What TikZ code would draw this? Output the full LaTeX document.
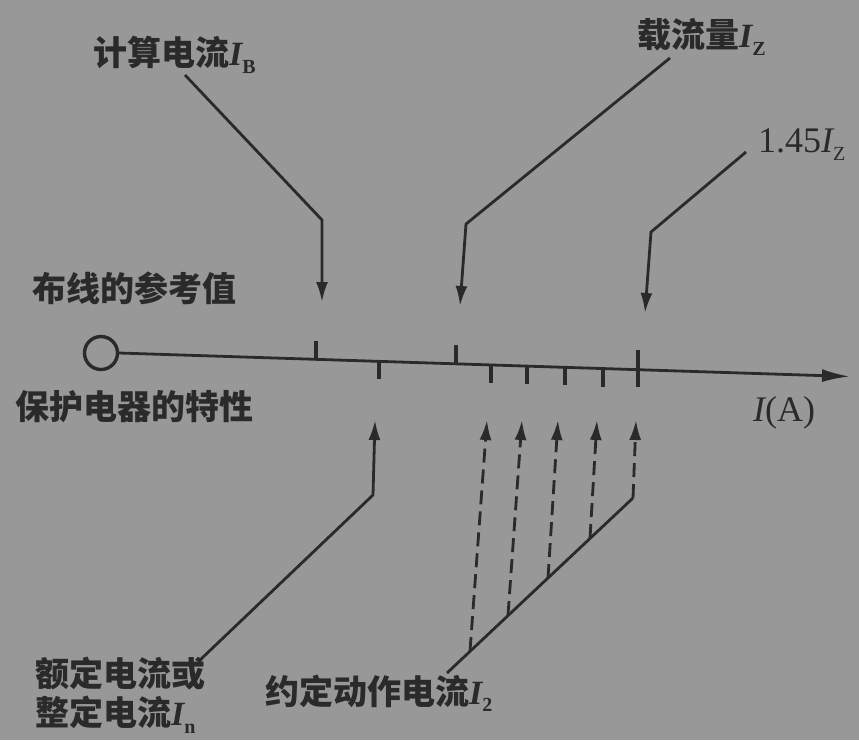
\documentclass[tikz,border=0pt]{standalone}
\usepackage{fontspec}
\setmainfont{Liberation Serif}
\newfontfamily\cjk{Noto Sans CJK SC}
\usetikzlibrary{arrows.meta}
\definecolor{bg}{RGB}{152,152,152}
\definecolor{ink}{RGB}{42,42,42}
\newcommand{\lowsub}[1]{\raisebox{-0.22em}{\rmfamily\upshape\fontsize{20}{20}\selectfont #1}}
\newcommand{\vI}{{\rmfamily\itshape I}}
\begin{document}
\begin{tikzpicture}[x=1pt,y=-1pt,
  lab/.style={inner sep=0pt, text=ink, font=\fontsize{34}{39}\selectfont\cjk\bfseries, anchor=west},
  latin/.style={inner sep=0pt, text=ink, font=\fontsize{36}{40}\selectfont\rmfamily, anchor=west},
  ln/.style={draw=ink, line width=2.8pt, line join=round},
  tick/.style={draw=ink, line width=3.6pt},
  tip/.style={-{Latex[length=20pt,width=12pt]}},
  dsh/.style={dash pattern=on 14pt off 7pt}]
\fill[bg] (0,0) rectangle (859,740);
\useasboundingbox (0,0) rectangle (859,740);

% axis
\node[circle, draw=ink, line width=3.4pt, minimum size=33pt, inner sep=0pt] (o) at (101,353) {};
\coordinate (axend) at (850,376.5);
\draw[ln, -{Latex[length=28pt,width=13pt]}] (o.east) -- (axend);

% tick positions on the axis
\coordinate (tB)  at (316,359.1);
\coordinate (tZ)  at (456,363.7);
\coordinate (t145) at (638,369.6);
\coordinate (tn)  at (379,361.2);
\coordinate (ta)  at (491,364.8);
\coordinate (tb)  at (527,366.0);
\coordinate (tc)  at (565,367.2);
\coordinate (td)  at (603,368.5);
\draw[tick] (tB) -- ++(0,-18);
\draw[tick] (tZ) -- ++(0,-19);
\draw[tick] (t145) ++(0,-20) -- ++(0,37);
\draw[tick] (tn) -- ++(0,18);
\draw[tick] (ta) -- ++(0,18);
\draw[tick] (tb) -- ++(0,18);
\draw[tick] (tc) -- ++(0,18);
\draw[tick] (td) -- ++(0,18);

% labels
\node[lab] (labB) at (93,55) {计算电流\vI\lowsub{B}};
\node[lab] (labZ) at (637,37) {载流量\vI\lowsub{Z}};
\node[latin] (lab145) at (758,145) {1.45\vI\lowsub{Z}};
\node[lab] (labRef) at (32,288) {布线的参考值};
\node[lab] (labProt) at (15,407) {保护电器的特性};
\node[latin] (labIA) at (753,413) {\vI(A)};
\node[lab, anchor=north west, align=left] (labIn) at (35,657) {额定电流或\\整定电流\vI\lowsub{n}};
\node[lab] (labI2) at (265,693) {约定动作电流\vI\lowsub{2}};

% upper arrows
\coordinate (sB) at (185,75);  \coordinate (bB) at (322,220);  \coordinate (eB) at (322,302);
\coordinate (sZ) at (670,58);  \coordinate (bZ) at (466,224);  \coordinate (eZ) at (460,306);
\coordinate (s145) at (746,152); \coordinate (b145) at (651,232); \coordinate (e145) at (645,313);
\draw[ln, tip] (sB) -- (bB) -- (eB);
\draw[ln, tip] (sZ) -- (bZ) -- (eZ);
\draw[ln, tip] (s145) -- (b145) -- (e145);

% rated current arrow
\coordinate (sn) at (200,660); \coordinate (bn) at (373,495); \coordinate (en) at (375,420);
\draw[ln, tip] (sn) -- (bn) -- (en);

% conventional operating current
\coordinate (s2) at (447,673);
\coordinate (d1) at (470,651); \coordinate (u1) at (487,420);
\coordinate (d2) at (508,615); \coordinate (u2) at (522,420);
\coordinate (d3) at (548,578); \coordinate (u3) at (558,420);
\coordinate (d4) at (590,538); \coordinate (u4) at (597,420);
\coordinate (d5) at (633,498); \coordinate (u5) at (636,420);
\draw[ln] (s2) -- (d5);
\draw[ln, tip, dsh] (d1) -- (u1);
\draw[ln, tip, dsh] (d2) -- (u2);
\draw[ln, tip, dsh] (d3) -- (u3);
\draw[ln, tip, dsh] (d4) -- (u4);
\draw[ln, tip, dsh] (d5) -- (u5);
\end{tikzpicture}
\end{document}
